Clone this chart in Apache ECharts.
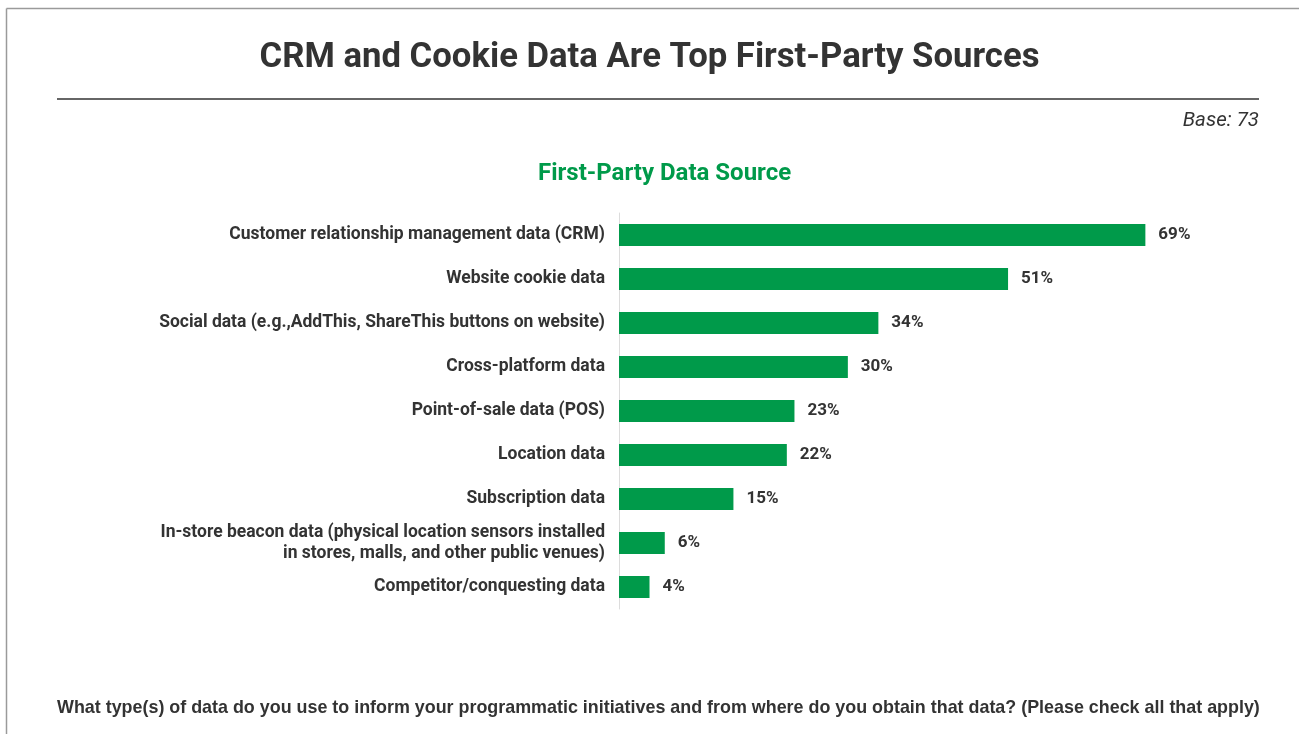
<!DOCTYPE html>
<html>
<head>
<meta charset="utf-8">
<script src="https://cdn.jsdelivr.net/npm/echarts@6/dist/echarts.min.js"></script>
<style>
  html, body { margin: 0; padding: 0; background: #fff; }
  #chart { width: 1299px; height: 734px; }
</style>
</head>
<body>
<div id="chart"></div>
<script>
// First-party data sources, share of respondents (%)
const categories = [
  'Customer relationship management data (CRM)',
  'Website cookie data',
  'Social data (e.g.,AddThis, ShareThis buttons on website)',
  'Cross-platform data',
  'Point-of-sale data (POS)',
  'Location data',
  'Subscription data',
  'In-store beacon data (physical location sensors installed\nin stores, malls, and other public venues)',
  'Competitor/conquesting data'
];
const values = [69, 51, 34, 30, 23, 22, 15, 6, 4];

const GREEN = '#009a4a';
const TEXT = '#333333';

const chart = echarts.init(document.getElementById('chart'), null, { renderer: 'canvas' });

chart.setOption({
  backgroundColor: '#ffffff',
  animation: false,
  title: [
    {
      text: 'CRM and Cookie Data Are Top First-Party Sources',
      left: 'center',
      top: 36,
      textStyle: { fontFamily: 'Roboto', fontWeight: 'bold', fontSize: 34.7, color: TEXT }
    },
    {
      text: 'First-Party Data Source',
      left: 533,
      top: 157,
      textStyle: { fontFamily: 'Roboto', fontWeight: 'bold', fontSize: 24, color: GREEN }
    }
  ],
  graphic: [
    // outer frame (top and left edges)
    { type: 'line', shape: { x1: 6.5, y1: 8.5, x2: 1299, y2: 8.5 }, style: { stroke: '#9a9a9a', lineWidth: 1.5 } },
    { type: 'line', shape: { x1: 6.5, y1: 8.5, x2: 6.5, y2: 734 }, style: { stroke: '#9a9a9a', lineWidth: 1.5 } },
    // rule under the headline
    { type: 'line', shape: { x1: 57, y1: 99, x2: 1259, y2: 99 }, style: { stroke: '#666666', lineWidth: 2 } },
    {
      type: 'text', right: 40, top: 111,
      style: { text: 'Base: 73', fontFamily: 'Roboto', fontStyle: 'italic', fontSize: 20.5, fill: TEXT, textAlign: 'right' }
    },
    {
      type: 'text', left: 57, top: 699,
      style: {
        text: 'What type(s) of data do you use to inform your programmatic initiatives and from where do you obtain that data? (Please check all that apply)',
        fontFamily: 'Liberation Sans', fontWeight: 'bold', fontSize: 17.9, fill: TEXT
      }
    }
  ],
  grid: { left: 619, top: 213, width: 534, height: 396, containLabel: false },
  xAxis: {
    type: 'value',
    min: 0,
    max: 70,
    show: false
  },
  yAxis: {
    type: 'category',
    inverse: true,
    data: categories,
    axisLine: { show: true, lineStyle: { color: '#dcdcdc', width: 1 } },
    axisTick: { show: false },
    axisLabel: {
      margin: 14,
      fontFamily: 'Roboto',
      fontWeight: 'bold',
      fontSize: 17.5,
      lineHeight: 21,
      color: TEXT,
      align: 'right'
    }
  },
  series: [{
    type: 'bar',
    data: values,
    barWidth: 22,
    itemStyle: { color: GREEN },
    label: {
      show: true,
      position: 'right',
      distance: 13,
      formatter: p => p.value + '%',
      fontFamily: 'Roboto',
      fontWeight: 'bold',
      fontSize: 17,
      color: TEXT
    }
  }]
});
</script>
</body>
</html>
